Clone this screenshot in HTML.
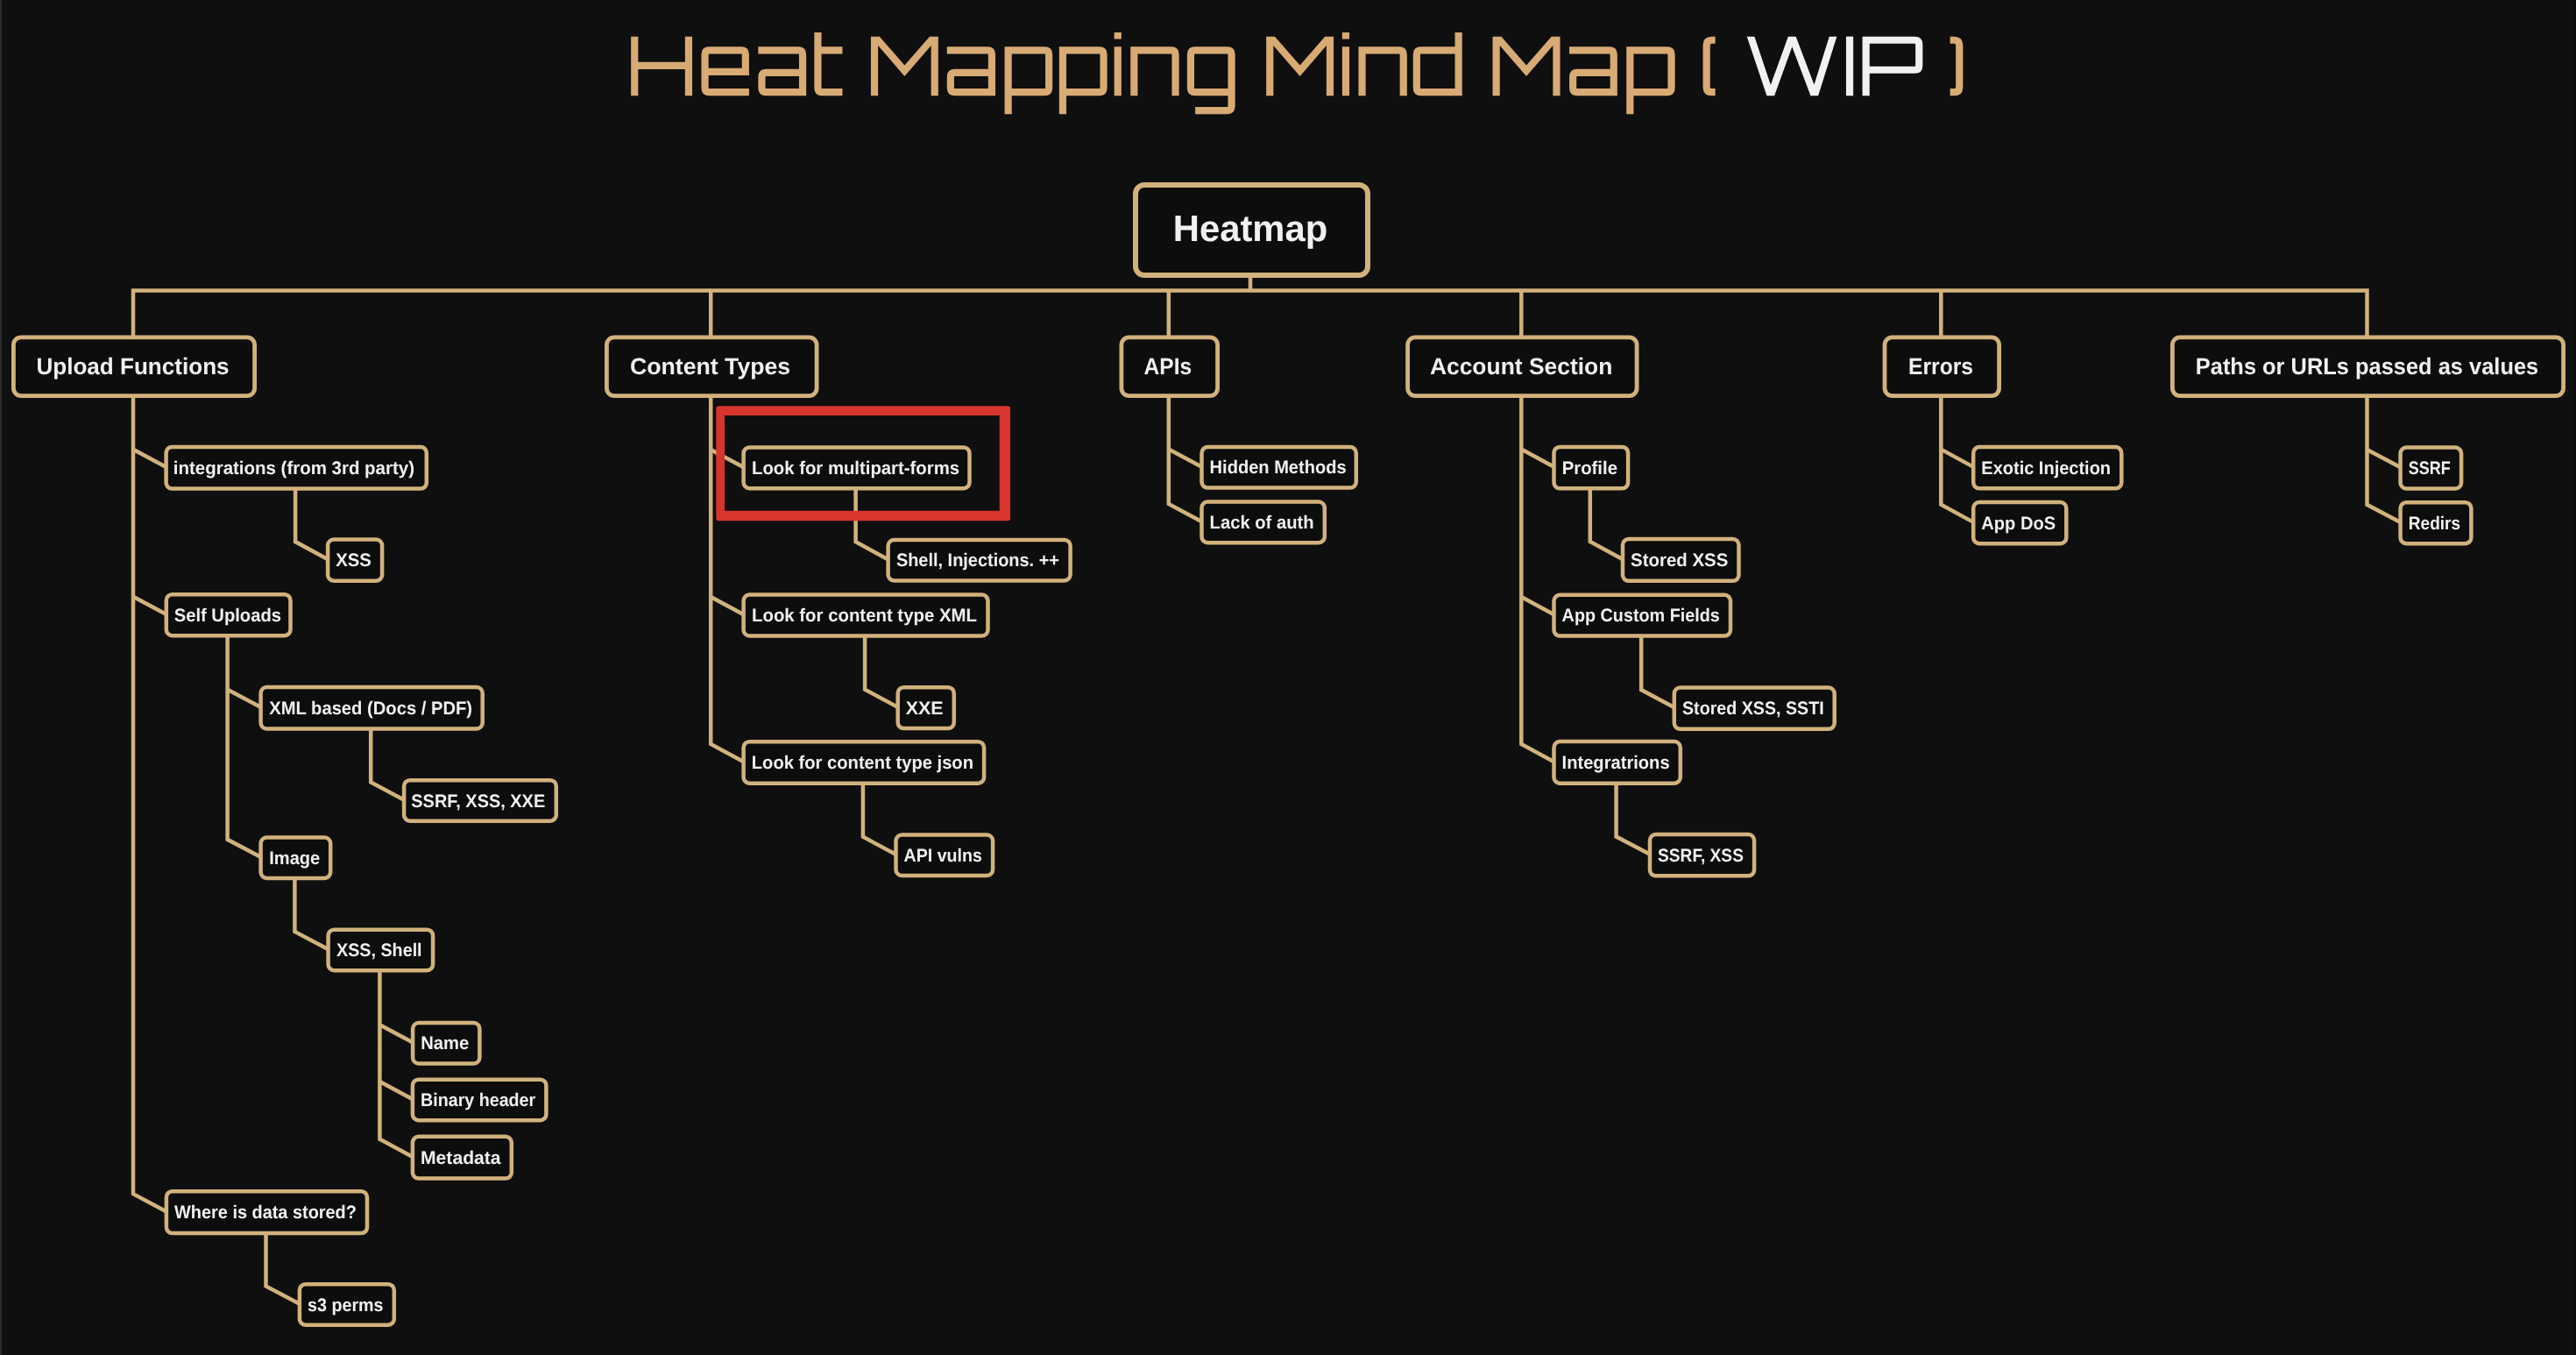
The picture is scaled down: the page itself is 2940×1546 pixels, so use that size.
<!DOCTYPE html>
<html><head><meta charset="utf-8"><title>Heat Mapping Mind Map (WIP)</title>
<style>
html,body{margin:0;padding:0;background:#0f0f0f;width:2940px;height:1546px;overflow:hidden}
svg{display:block;will-change:transform}
text{font-family:"Liberation Sans",sans-serif;font-weight:bold;fill:#f1f1f1;-webkit-font-smoothing:antialiased;text-rendering:geometricPrecision}
</style></head>
<body>
<svg width="2940" height="1546" viewBox="0 0 2940 1546">
<rect width="2940" height="1546" fill="#0f0f0f"/>
<rect x="0" y="0" width="2.1" height="1546" fill="#2d2d2b"/>
<rect x="2938" y="0" width="2" height="1546" fill="#0a0908"/>
<path d="M1427 315 V331.5 M152.0 334.0 V331.5 H2701.5 V334.0 M152.0 331.5 V384.5 M811.2 331.5 V384.5 M1333.8 331.5 V384.5 M1736.3 331.5 V384.5 M2215.3 331.5 V384.5 M2701.5 331.5 V384.5 M152.0 452 V1362.2 L189.7 1382.2 M152.0 512.7 L189.3 532.7 M152.0 680.8 L189.5 700.8 M337.1 557.8 V618.1 L373.8 638.1 M259.6 725.5 V957.8 L297.4 977.8 M259.6 786.8 L297.4 806.8 M423.2 831.8 V892.5 L460.8 912.5 M336.4 1002.2 V1062.9 L374.4 1082.9 M433.4 1107.4 V1299.7 L470.6 1319.7 M433.4 1169.2 L470.8 1189.2 M433.4 1233.9 L470.6 1253.9 M303.5 1407.4 V1467.5 L341.6 1487.5 M811.2 452 V849.0 L848.4 869.0 M811.2 512.9 L848.4 532.9 M811.2 681.1 L848.4 701.1 M976.6 557.5 V618.2 L1013.4 638.2 M987.1 725.8 V786.7 L1024.4 806.7 M984.9 894 V954.7 L1022.2 974.7 M1333.8 452 V574.9 L1371.2 594.9 M1333.8 512.4 L1371.2 532.4 M1736.3 452 V849.0 L1773.2 869.0 M1736.3 512.5 L1773.3 532.5 M1736.3 681.1 L1773.2 701.1 M1814.8 557.5 V617.9 L1851.7 637.9 M1873.2 725.8 V787.1 L1910.6 807.1 M1844.6 894 V954.6 L1882.7 974.6 M2215.3 452 V575.6 L2251.9 595.6 M2215.3 512.6 L2251.9 532.6 M2701.5 452 V575.8 L2739.3 595.8 M2701.5 513.0 L2739.3 533.0" fill="none" stroke="#d2b27c" stroke-width="4.5" stroke-linejoin="miter"/>
<rect x="1296.0" y="211.0" width="265.0" height="103.0" rx="10.0" fill="#0d0d0e" stroke="#d2b27c" stroke-width="6"/>
<rect x="15.4" y="384.9" width="275.2" height="66.7" rx="8.6" fill="#0d0d0e" stroke="#d2b27c" stroke-width="4.8"/>
<rect x="692.4" y="384.9" width="239.7" height="66.7" rx="8.6" fill="#0d0d0e" stroke="#d2b27c" stroke-width="4.8"/>
<rect x="1279.9" y="384.9" width="109.7" height="66.7" rx="8.6" fill="#0d0d0e" stroke="#d2b27c" stroke-width="4.8"/>
<rect x="1606.6" y="384.9" width="261.5" height="66.7" rx="8.6" fill="#0d0d0e" stroke="#d2b27c" stroke-width="4.8"/>
<rect x="2151.0" y="384.9" width="130.6" height="66.7" rx="8.6" fill="#0d0d0e" stroke="#d2b27c" stroke-width="4.8"/>
<rect x="2479.4" y="384.9" width="446.2" height="66.7" rx="8.6" fill="#0d0d0e" stroke="#d2b27c" stroke-width="4.8"/>
<rect x="189.6" y="509.9" width="297.2" height="47.7" rx="6.8" fill="#0d0d0e" stroke="#d2b27c" stroke-width="4.5"/>
<rect x="374.1" y="615.5" width="62.0" height="47.2" rx="6.8" fill="#0d0d0e" stroke="#d2b27c" stroke-width="4.5"/>
<rect x="189.8" y="678.2" width="141.7" height="47.0" rx="6.8" fill="#0d0d0e" stroke="#d2b27c" stroke-width="4.5"/>
<rect x="297.6" y="784.0" width="253.1" height="47.5" rx="6.8" fill="#0d0d0e" stroke="#d2b27c" stroke-width="4.5"/>
<rect x="461.1" y="890.2" width="173.7" height="46.5" rx="6.8" fill="#0d0d0e" stroke="#d2b27c" stroke-width="4.5"/>
<rect x="297.6" y="955.5" width="79.6" height="46.4" rx="6.8" fill="#0d0d0e" stroke="#d2b27c" stroke-width="4.5"/>
<rect x="374.6" y="1060.7" width="119.5" height="46.5" rx="6.8" fill="#0d0d0e" stroke="#d2b27c" stroke-width="4.5"/>
<rect x="471.1" y="1167.0" width="76.3" height="46.5" rx="6.8" fill="#0d0d0e" stroke="#d2b27c" stroke-width="4.5"/>
<rect x="470.9" y="1231.7" width="152.5" height="46.5" rx="6.8" fill="#0d0d0e" stroke="#d2b27c" stroke-width="4.5"/>
<rect x="470.9" y="1296.8" width="112.9" height="47.8" rx="6.8" fill="#0d0d0e" stroke="#d2b27c" stroke-width="4.5"/>
<rect x="189.9" y="1359.2" width="229.1" height="47.9" rx="6.8" fill="#0d0d0e" stroke="#d2b27c" stroke-width="4.5"/>
<rect x="341.9" y="1465.2" width="107.9" height="46.5" rx="6.8" fill="#0d0d0e" stroke="#d2b27c" stroke-width="4.5"/>
<rect x="848.6" y="510.4" width="257.9" height="46.8" rx="6.8" fill="#0d0d0e" stroke="#d2b27c" stroke-width="4.5"/>
<rect x="1013.6" y="616.0" width="208.0" height="46.4" rx="6.8" fill="#0d0d0e" stroke="#d2b27c" stroke-width="4.5"/>
<rect x="848.6" y="678.6" width="278.9" height="46.9" rx="6.8" fill="#0d0d0e" stroke="#d2b27c" stroke-width="4.5"/>
<rect x="1024.7" y="784.2" width="64.1" height="46.9" rx="6.8" fill="#0d0d0e" stroke="#d2b27c" stroke-width="4.5"/>
<rect x="848.6" y="846.2" width="274.5" height="47.5" rx="6.8" fill="#0d0d0e" stroke="#d2b27c" stroke-width="4.5"/>
<rect x="1022.5" y="952.5" width="110.6" height="46.5" rx="6.8" fill="#0d0d0e" stroke="#d2b27c" stroke-width="4.5"/>
<rect x="1371.5" y="510.1" width="176.3" height="46.5" rx="6.8" fill="#0d0d0e" stroke="#d2b27c" stroke-width="4.5"/>
<rect x="1371.5" y="572.5" width="140.3" height="46.7" rx="6.8" fill="#0d0d0e" stroke="#d2b27c" stroke-width="4.5"/>
<rect x="1773.5" y="509.9" width="84.6" height="47.4" rx="6.8" fill="#0d0d0e" stroke="#d2b27c" stroke-width="4.5"/>
<rect x="1852.0" y="615.0" width="132.5" height="47.8" rx="6.8" fill="#0d0d0e" stroke="#d2b27c" stroke-width="4.5"/>
<rect x="1773.5" y="678.8" width="201.5" height="46.8" rx="6.8" fill="#0d0d0e" stroke="#d2b27c" stroke-width="4.5"/>
<rect x="1910.8" y="784.5" width="182.9" height="47.3" rx="6.8" fill="#0d0d0e" stroke="#d2b27c" stroke-width="4.5"/>
<rect x="1773.5" y="846.1" width="144.3" height="47.6" rx="6.8" fill="#0d0d0e" stroke="#d2b27c" stroke-width="4.5"/>
<rect x="1883.0" y="952.0" width="119.1" height="47.3" rx="6.8" fill="#0d0d0e" stroke="#d2b27c" stroke-width="4.5"/>
<rect x="2252.2" y="510.1" width="169.1" height="47.2" rx="6.8" fill="#0d0d0e" stroke="#d2b27c" stroke-width="4.5"/>
<rect x="2252.2" y="573.0" width="106.1" height="47.2" rx="6.8" fill="#0d0d0e" stroke="#d2b27c" stroke-width="4.5"/>
<rect x="2739.6" y="510.6" width="69.5" height="46.9" rx="6.8" fill="#0d0d0e" stroke="#d2b27c" stroke-width="4.5"/>
<rect x="2739.6" y="573.2" width="80.8" height="47.0" rx="6.8" fill="#0d0d0e" stroke="#d2b27c" stroke-width="4.5"/>
<text x="1338.8" y="275.0" font-size="42" textLength="176.5" lengthAdjust="spacingAndGlyphs">Heatmap</text>
<text x="41.4" y="426.8" font-size="26.5" textLength="220.2" lengthAdjust="spacingAndGlyphs">Upload Functions</text>
<text x="719.0" y="426.8" font-size="26.5" textLength="183.2" lengthAdjust="spacingAndGlyphs">Content Types</text>
<text x="1305.6" y="426.8" font-size="26.5" textLength="54.6" lengthAdjust="spacingAndGlyphs">APIs</text>
<text x="1631.9" y="426.8" font-size="26.5" textLength="208.5" lengthAdjust="spacingAndGlyphs">Account Section</text>
<text x="2178.0" y="426.8" font-size="26.5" textLength="74.1" lengthAdjust="spacingAndGlyphs">Errors</text>
<text x="2505.8" y="426.8" font-size="26.5" textLength="391.4" lengthAdjust="spacingAndGlyphs">Paths or URLs passed as values</text>
<text x="197.8" y="540.7" font-size="21" textLength="275.2" lengthAdjust="spacingAndGlyphs">integrations (from 3rd party)</text>
<text x="383.2" y="646.1" font-size="21" textLength="40.7" lengthAdjust="spacingAndGlyphs">XSS</text>
<text x="198.7" y="708.8" font-size="21" textLength="122.3" lengthAdjust="spacingAndGlyphs">Self Uploads</text>
<text x="307.2" y="814.8" font-size="21" textLength="231.9" lengthAdjust="spacingAndGlyphs">XML based (Docs / PDF)</text>
<text x="469.3" y="920.5" font-size="21" textLength="152.9" lengthAdjust="spacingAndGlyphs">SSRF, XSS, XXE</text>
<text x="307.2" y="985.8" font-size="21" textLength="58.1" lengthAdjust="spacingAndGlyphs">Image</text>
<text x="384.0" y="1090.9" font-size="21" textLength="97.6" lengthAdjust="spacingAndGlyphs">XSS, Shell</text>
<text x="480.2" y="1197.2" font-size="21" textLength="55.0" lengthAdjust="spacingAndGlyphs">Name</text>
<text x="480.0" y="1261.9" font-size="21" textLength="131.2" lengthAdjust="spacingAndGlyphs">Binary header</text>
<text x="480.0" y="1327.7" font-size="21" textLength="91.6" lengthAdjust="spacingAndGlyphs">Metadata</text>
<text x="199.1" y="1390.2" font-size="21" textLength="207.8" lengthAdjust="spacingAndGlyphs">Where is data stored?</text>
<text x="351.0" y="1495.5" font-size="21" textLength="86.6" lengthAdjust="spacingAndGlyphs">s3 perms</text>
<text x="858.0" y="540.9" font-size="21" textLength="237.0" lengthAdjust="spacingAndGlyphs">Look for multipart-forms</text>
<text x="1022.9" y="646.2" font-size="21" textLength="186.1" lengthAdjust="spacingAndGlyphs">Shell, Injections. ++</text>
<text x="858.0" y="709.1" font-size="21" textLength="256.9" lengthAdjust="spacingAndGlyphs">Look for content type XML</text>
<text x="1033.8" y="814.7" font-size="21" textLength="42.8" lengthAdjust="spacingAndGlyphs">XXE</text>
<text x="857.8" y="877.0" font-size="21" textLength="253.2" lengthAdjust="spacingAndGlyphs">Look for content type json</text>
<text x="1031.6" y="982.7" font-size="21" textLength="89.3" lengthAdjust="spacingAndGlyphs">API vulns</text>
<text x="1380.6" y="540.4" font-size="21" textLength="156.0" lengthAdjust="spacingAndGlyphs">Hidden Methods</text>
<text x="1380.6" y="602.9" font-size="21" textLength="119.0" lengthAdjust="spacingAndGlyphs">Lack of auth</text>
<text x="1782.7" y="540.5" font-size="21" textLength="63.3" lengthAdjust="spacingAndGlyphs">Profile</text>
<text x="1861.1" y="645.9" font-size="21" textLength="111.2" lengthAdjust="spacingAndGlyphs">Stored XSS</text>
<text x="1782.6" y="709.1" font-size="21" textLength="180.2" lengthAdjust="spacingAndGlyphs">App Custom Fields</text>
<text x="1920.0" y="815.1" font-size="21" textLength="161.6" lengthAdjust="spacingAndGlyphs">Stored XSS, SSTI</text>
<text x="1782.6" y="877.0" font-size="21" textLength="123.0" lengthAdjust="spacingAndGlyphs">Integratrions</text>
<text x="1892.1" y="982.6" font-size="21" textLength="97.8" lengthAdjust="spacingAndGlyphs">SSRF, XSS</text>
<text x="2261.3" y="540.6" font-size="21" textLength="147.8" lengthAdjust="spacingAndGlyphs">Exotic Injection</text>
<text x="2261.3" y="603.6" font-size="21" textLength="84.8" lengthAdjust="spacingAndGlyphs">App DoS</text>
<text x="2748.7" y="541.0" font-size="21" textLength="48.2" lengthAdjust="spacingAndGlyphs">SSRF</text>
<text x="2748.7" y="603.8" font-size="21" textLength="59.5" lengthAdjust="spacingAndGlyphs">Redirs</text>
<path fill-rule="evenodd" fill="#d7352d" d="M820.3 463.3H1150.1Q1153.1 463.3 1153.1 466.3V591.2Q1153.1 594.2 1150.1 594.2H820.3Q817.3 594.2 817.3 591.2V466.3Q817.3 463.3 820.3 463.3ZM827 473.9V582.7H1140.7V473.9Z"/>
<path d="M724.25 41.65V109.25M785.95 41.65V109.25M724.25 74.85H785.95M854.95 105.14H809.55Q804.55 105.14 804.55 100.14V62.35Q804.55 57.35 809.55 57.35H845.85Q850.85 57.35 850.85 62.35V81.85H804.55M865.34 57.35H911.05Q916.05 57.35 916.05 62.35V109.25M916.05 82.95H874.44Q869.44 82.95 869.44 87.95V100.14Q869.44 105.14 874.44 105.14H916.05M933.44 36.95V100.14Q933.44 105.14 938.44 105.14H961.45M933.44 57.35H961.45M1080.75 57.35H1126.94Q1131.94 57.35 1131.94 62.35V109.25M1131.94 82.95H1089.85Q1084.85 82.95 1084.85 87.95V100.14Q1084.85 105.14 1089.85 105.14H1131.94M1150.65 130.15V53.25M1150.65 57.35H1192.14Q1197.14 57.35 1197.14 62.35V100.14Q1197.14 105.14 1192.14 105.14H1150.65M1212.95 130.15V53.25M1212.95 57.35H1254.55Q1259.55 57.35 1259.55 62.35V100.14Q1259.55 105.14 1254.55 105.14H1212.95M1275.75 109.25V53.25M1275.75 36.95V44.55M1294.35 109.25V53.25M1294.35 57.35H1336.55Q1341.55 57.35 1341.55 62.35V109.25M1405.55 105.14H1363.95Q1358.95 105.14 1358.95 100.14V62.35Q1358.95 57.35 1363.95 57.35H1400.55Q1405.55 57.35 1405.55 62.35V121.04Q1405.55 126.04 1400.55 126.04H1364.14M1535.95 109.25V53.25M1535.95 36.95V44.55M1554.55 109.25V53.25M1554.55 57.35H1596.75Q1601.75 57.35 1601.75 62.35V109.25M1664.64 36.95V109.25M1664.64 57.35H1621.85Q1616.85 57.35 1616.85 62.35V100.14Q1616.85 105.14 1621.85 105.14H1664.64M1791.05 57.35H1836.75Q1841.75 57.35 1841.75 62.35V109.25M1841.75 82.95H1800.15Q1795.15 82.95 1795.15 87.95V100.14Q1795.15 105.14 1800.15 105.14H1841.75M1860.35 130.15V53.25M1860.35 57.35H1902.55Q1907.55 57.35 1907.55 62.35V100.14Q1907.55 105.14 1902.55 105.14H1860.35M1957.65 45.75H1953.65Q1947.65 45.75 1947.65 51.75V99.14Q1947.65 105.14 1953.65 105.14H1957.65M2225.65 45.75H2230.25Q2236.25 45.75 2236.25 51.75V99.14Q2236.25 105.14 2230.25 105.14H2225.65" fill="none" stroke="#d8aa74" stroke-width="8.2" stroke-linejoin="miter" stroke-linecap="butt"/>
<path d="M993.95 109.25V41.65H1003.80L1032.40 74.4L1061.00 41.65H1070.85V109.25H1062.65V52L1032.40 86.95L1002.15 52V109.25ZM1445.15 109.25V41.65H1455.00L1483.60 74.4L1512.20 41.65H1522.05V109.25H1513.85V52L1483.60 86.95L1453.35 52V109.25ZM1703.55 109.25V41.65H1713.40L1742.05 74.4L1770.70 41.65H1780.55V109.25H1772.35V52L1742.05 86.95L1711.75 52V109.25Z" fill="#d8aa74"/>
<clipPath id="wclip"><rect x="1980" y="41.65" width="130" height="67.60"/></clipPath>
<path clip-path="url(#wclip)" d="M1990.78 20.0L2020.75 109.25L2045.25 41.65L2070.85 109.25L2098.91 20.0" fill="none" stroke="#f1f1f1" stroke-width="8.2" stroke-linejoin="miter" stroke-miterlimit="10"/>
<path d="M2106.95 41.65H2115.15V109.25H2106.95Z" fill="#f1f1f1"/>
<path d="M2129.65 109.25V41.65M2129.65 45.75H2185.25Q2190.25 45.75 2190.25 50.75V74.75Q2190.25 79.75 2185.25 79.75H2129.65" fill="none" stroke="#f1f1f1" stroke-width="8.2"/>
</svg>
</body></html>
